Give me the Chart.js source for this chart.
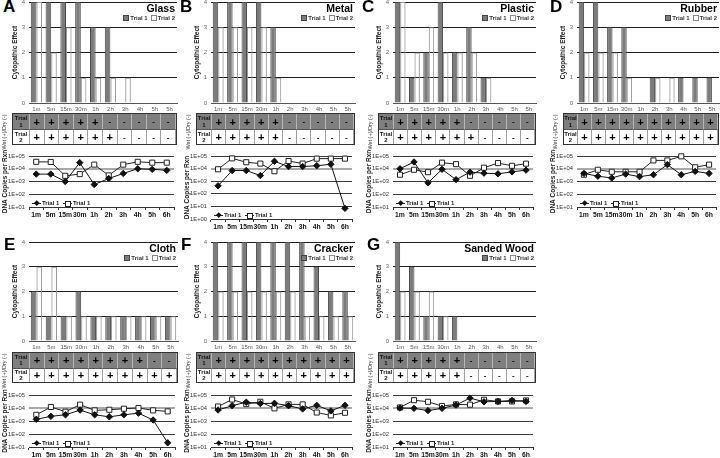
<!DOCTYPE html>
<html>
<head>
<meta charset="utf-8">
<script src="https://cdn.jsdelivr.net/npm/chart.js@4.4.1/dist/chart.umd.min.js"></script>
<style>
  body { margin: 0; width: 720px; height: 458px; position: relative; overflow: hidden; background: #fff;
         font-family: "Liberation Sans", Arial, sans-serif; }
  canvas { position: absolute; }
  .abs { position: absolute; white-space: nowrap; }
  .letter { font-weight: bold; font-size: 17px; line-height: 17px; }
  .ptitle { font-weight: bold; font-size: 10.5px; line-height: 12px; text-align: right; width: 90px; }
  .blegend { font-weight: bold; font-size: 6px; line-height: 8px; color: #333; text-align: right; width: 60px; }
  .blegend i { display: inline-block; width: 4px; height: 4px; vertical-align: -0.5px; margin: 0 1px 0 3px; }
  .llegend { font-weight: bold; font-size: 6px; line-height: 8px; color: #222; }
  .llegend .mk { display: inline-block; position: relative; width: 9px; height: 6px; vertical-align: -1px; margin: 0 1px 0 2px; }
  .llegend .mk:before { content: ""; position: absolute; left: 0; right: 0; top: 3px; border-top: 1px solid #222; }
  .llegend .dia { position: absolute; left: 2.5px; top: 1px; width: 3.5px; height: 3.5px; background: #111; transform: rotate(45deg); }
  .llegend .sq { position: absolute; left: 2px; top: 0.5px; width: 4px; height: 4px; background: #fff; border: 1px solid #222; }
  .tbl { display: grid; border: 1px solid #333; box-sizing: border-box; }
  .tbl div { display: flex; align-items: center; justify-content: center; font-weight: bold; box-sizing: border-box; }
  .tbl .g { background: #7f7f7f; border-right: 1px solid #b5b5b5; }
  .tbl .w { background: #fff; border-right: 1px solid #a0a0a0; border-top: 1px solid #555; }
  .tbl .hd { font-size: 6px; line-height: 6.5px; text-align: center; color: #111; }
  .tbl .pl { font-size: 11px; color: #000; }
  .tbl .mi { font-size: 8px; color: #000; }
  .wet { font-size: 5.5px; line-height: 8px; width: 50px; text-align: center; color: #333; transform: rotate(-90deg); }
</style>
</head>
<body>
<script>
// categories
const barLabels = ["1m", "5m", "15m", "30m", "1h", "2h", "3h", "4h", "5h", "5h"];
const timeLabels = ["1m", "5m", "15m", "30m", "1h", "2h", "3h", "4h", "5h", "6h"];
const barLegend = ["Trial 1", "Trial 2"];
const lineLegend = ["Trial 1", "Trial 1"];
const rowNames = ["Trial 1", "Trial 2"];

// cytopathic effect (0-4)
const glassCpe1 = [4, 4, 4, 4, 3, 3, 0, 0, 0, 0];
const glassCpe2 = [4, 2, 3, 1, 1, 1, 1, 0, 0, 0];
const metalCpe1 = [4, 4, 4, 4, 3, 0, 0, 0, 0, 0];
const metalCpe2 = [3, 3, 3, 3, 1, 0, 0, 0, 0, 0];
const plasticCpe1 = [4, 1, 2, 4, 2, 3, 1, 0, 0, 0];
const plasticCpe2 = [4, 2, 3, 2, 2, 2, 1, 0, 0, 0];
const rubberCpe1 = [4, 4, 3, 3, 0, 1, 0, 1, 1, 1];
const rubberCpe2 = [2, 2, 2, 1, 0, 1, 1, 0, 0, 0];
const clothCpe1 = [2, 1, 1, 2, 1, 1, 1, 1, 1, 1];
const clothCpe2 = [3, 3, 1, 1, 1, 1, 1, 1, 1, 1];
const crackerCpe1 = [4, 4, 4, 4, 4, 4, 4, 3, 2, 2];
const crackerCpe2 = [2, 2, 2, 2, 2, 2, 1, 1, 1, 1];
const woodCpe1 = [4, 3, 1, 1, 1, 0, 0, 0, 0, 0];
const woodCpe2 = [2, 2, 2, 1, 0, 0, 0, 0, 0, 0];

// wet (+) / dry (-)
const glassWet1 = ["+", "+", "+", "+", "+", "-", "-", "-", "-", "-"];
const glassWet2 = ["+", "+", "+", "+", "+", "+", "-", "-", "-", "-"];
const metalWet1 = ["+", "+", "+", "+", "+", "-", "-", "-", "-", "-"];
const metalWet2 = ["+", "+", "+", "+", "+", "-", "-", "-", "-", "-"];
const plasticWet1 = ["+", "+", "+", "+", "+", "-", "-", "-", "-", "-"];
const plasticWet2 = ["+", "+", "+", "+", "+", "+", "-", "-", "-", "-"];
const rubberWet1 = ["+", "+", "+", "+", "+", "+", "+", "+", "+", "+"];
const rubberWet2 = ["+", "+", "+", "+", "+", "+", "+", "+", "+", "+"];
const clothWet1 = ["+", "+", "+", "+", "+", "+", "+", "+", "-", "-"];
const clothWet2 = ["+", "+", "+", "+", "+", "+", "+", "+", "+", "+"];
const crackerWet1 = ["+", "+", "+", "+", "+", "+", "+", "+", "+", "+"];
const crackerWet2 = ["+", "+", "+", "+", "+", "+", "+", "+", "+", "+"];
const woodWet1 = ["+", "+", "+", "+", "+", "-", "-", "-", "-", "-"];
const woodWet2 = ["+", "+", "+", "+", "+", "-", "-", "-", "-", "-"];

// DNA copies per reaction
const glassDna1 = [3800, 3800, 1000, 30000, 580, 1700, 4300, 10000, 9000, 7500];
const glassDna2 = [35000, 34000, 2800, 3800, 21000, 3000, 21000, 35000, 30000, 30000];
const metalDna1 = [430, 7000, 7000, 2800, 38000, 14500, 14500, 17000, 22000, 7];
const metalDna2 = [8900, 65000, 32000, 25000, 6200, 40000, 25000, 62000, 62000, 62000];
const plasticDna1 = [10000, 34000, 780, 9000, 1400, 5400, 4500, 4000, 5700, 7800];
const plasticDna2 = [3400, 8300, 5400, 30000, 23000, 2800, 12000, 28000, 17000, 25000];
const rubberDna1 = [4300, 2600, 1900, 3800, 2400, 3400, 21000, 3400, 6200, 4300];
const rubberDna2 = [3400, 8300, 5800, 5800, 5800, 45000, 45000, 94000, 13000, 21000];
const clothDna1 = [1350, 2300, 3000, 6900, 3000, 2100, 3000, 4000, 1200, 21];
const clothDna2 = [3000, 12000, 5200, 18000, 6600, 7300, 8800, 10000, 6600, 5500];
const crackerDna1 = [7000, 15000, 28000, 22000, 23000, 15000, 8500, 16000, 6000, 16000];
const crackerDna2 = [13000, 45000, 20000, 30000, 9400, 19000, 19000, 4500, 2700, 4300];
const woodDna1 = [10000, 9400, 6300, 9400, 17000, 58000, 30000, 32000, 38000, 32000];
const woodDna2 = [11000, 40000, 30000, 14000, 19000, 18000, 43000, 32000, 32000, 38000];

// row geometry (page pixels)
const rows = [
  { letterTop: -2, barTop: 2, barBottom: 103, tblTop: 113, tblBottom: 145, lineTop: 156, lineBottom: 207 },
  { letterTop: 236, barTop: 242, barBottom: 341, tblTop: 352, tblBottom: 383, lineTop: 395, lineBottom: 447 }
];

const panels = [
  { letter: "A", name: "Glass", row: 0, lx: 3, x0: 12, xp: 29, xr: 177, cpe1: glassCpe1, cpe2: glassCpe2, wet1: glassWet1, wet2: glassWet2, dna1: glassDna1, dna2: glassDna2, logMin: 10 },
  { letter: "B", name: "Metal", row: 0, lx: 180, x0: 196, xp: 211, xr: 355, cpe1: metalCpe1, cpe2: metalCpe2, wet1: metalWet1, wet2: metalWet2, dna1: metalDna1, dna2: metalDna2, logMin: 1 },
  { letter: "C", name: "Plastic", row: 0, lx: 362, x0: 378, xp: 393, xr: 536, cpe1: plasticCpe1, cpe2: plasticCpe2, wet1: plasticWet1, wet2: plasticWet2, dna1: plasticDna1, dna2: plasticDna2, logMin: 10 },
  { letter: "D", name: "Rubber", row: 0, lx: 550, x0: 563, xp: 577, xr: 719, cpe1: rubberCpe1, cpe2: rubberCpe2, wet1: rubberWet1, wet2: rubberWet2, dna1: rubberDna1, dna2: rubberDna2, logMin: 10 },
  { letter: "E", name: "Cloth", row: 1, lx: 4, x0: 12, xp: 29, xr: 178, cpe1: clothCpe1, cpe2: clothCpe2, wet1: clothWet1, wet2: clothWet2, dna1: clothDna1, dna2: clothDna2, logMin: 10 },
  { letter: "F", name: "Cracker", row: 1, lx: 181, x0: 196, xp: 211, xr: 355, cpe1: crackerCpe1, cpe2: crackerCpe2, wet1: crackerWet1, wet2: crackerWet2, dna1: crackerDna1, dna2: crackerDna2, logMin: 10 },
  { letter: "G", name: "Sanded Wood", row: 1, lx: 367, x0: 378, xp: 393, xr: 536, cpe1: woodCpe1, cpe2: woodCpe2, wet1: woodWet1, wet2: woodWet2, dna1: woodDna1, dna2: woodDna2, logMin: 10 }
];

Chart.defaults.font.family = '"Liberation Sans", Arial, sans-serif';

function addDiv(cls, left, top, html) {
  const d = document.createElement("div");
  d.className = "abs " + cls;
  d.style.left = left + "px";
  d.style.top = top + "px";
  d.innerHTML = html;
  document.body.appendChild(d);
  return d;
}

function addCanvas(l, t, r, b) {
  const c = document.createElement("canvas");
  c.width = r - l;
  c.height = b - t;
  c.style.left = l + "px";
  c.style.top = t + "px";
  document.body.appendChild(c);
  return c;
}

function sci(v) {
  const e = Math.round(Math.log10(v));
  return "1E+" + String(e).padStart(2, "0");
}

panels.forEach(p => {
  const R = rows[p.row];
  const lineBottom = p.logMin === 1 ? R.lineBottom + 12 : R.lineBottom;

  addDiv("letter", p.lx, R.letterTop, p.letter);

  // bar chart: cytopathic effect
  const bl = p.xp - 20, bt = R.barTop - 8, br = p.xr + 2, bb = R.barBottom + 11;
  new Chart(addCanvas(bl, bt, br, bb), {
    type: "bar",
    data: {
      labels: barLabels,
      datasets: [
        { label: barLegend[0], data: p.cpe1, backgroundColor: "#7c7c7c", borderColor: "#4a4a4a", borderWidth: 1,
          barPercentage: 1, categoryPercentage: 0.76 },
        { label: barLegend[1], data: p.cpe2, backgroundColor: "rgba(255,255,255,0)", borderColor: "#999", borderWidth: 1,
          barPercentage: 1, categoryPercentage: 0.76 }
      ]
    },
    options: {
      responsive: false, animation: false,
      layout: { padding: { left: 0, bottom: 0, top: R.barTop - bt, right: br - p.xr } },
      plugins: { legend: { display: false }, tooltip: { enabled: false } },
      scales: {
        x: {
          grid: { display: false, drawTicks: false },
          border: { color: "#555" },
          ticks: { font: { size: 6 }, color: "#555", padding: 3, maxRotation: 0, autoSkip: false },
          afterFit: s => { s.height = bb - R.barBottom; }
        },
        y: {
          min: 0, max: 4,
          ticks: { stepSize: 1, font: { size: 6 }, color: "#666", padding: 4 },
          grid: { color: "#1e1e1e", drawTicks: false },
          border: { display: false },
          title: { display: true, text: "Cytopathic Effect", font: { size: 6.5, weight: "bold" }, color: "#222", padding: { top: 2, bottom: 0 } },
          afterFit: s => { s.width = p.xp - bl; }
        }
      }
    }
  });

  addDiv("ptitle", p.xr - 92, R.barTop, p.name);
  addDiv("blegend", p.xr - 62, R.barTop + 12,
    '<i style="background:#7c7c7c;border:1px solid #444"></i>' + barLegend[0] +
    '<i style="background:#fff;border:1px solid #888"></i>' + barLegend[1]);

  // wet / dry table
  const tbl = document.createElement("div");
  tbl.className = "abs tbl";
  tbl.style.left = p.x0 + "px";
  tbl.style.top = R.tblTop + "px";
  tbl.style.width = (p.xr - p.x0) + "px";
  tbl.style.height = (R.tblBottom - R.tblTop) + "px";
  tbl.style.gridTemplateColumns = (p.xp - p.x0) + "px repeat(" + timeLabels.length + ", 1fr)";
  tbl.style.gridTemplateRows = "1fr 1fr";
  let html = "";
  [p.wet1, p.wet2].forEach((vals, ri) => {
    const cls = ri === 0 ? "g" : "w";
    const parts = rowNames[ri].split(" ");
    html += '<div class="' + cls + ' hd">' + parts[0] + "<br>" + parts[1] + "</div>";
    vals.forEach(v => {
      html += '<div class="' + cls + " " + (v === "+" ? "pl" : "mi") + '">' + v + "</div>";
    });
  });
  tbl.innerHTML = html;
  document.body.appendChild(tbl);

  const wy = (R.tblTop + R.tblBottom) / 2 + 3;
  addDiv("wet", p.x0 - 8 - 25, wy - 4, "Wet (+)/Dry (-)");

  // line chart: DNA copies
  const ll = p.xp - 28, lt = R.lineTop - 8, lr = p.xr + 2, lb = lineBottom + 12;
  const logTicks = [];
  for (let v = p.logMin; v <= 1e5; v *= 10) logTicks.push(v);
  new Chart(addCanvas(ll, lt, lr, lb), {
    type: "line",
    data: {
      labels: timeLabels,
      datasets: [
        { label: lineLegend[0], data: p.dna1, borderColor: "#111", borderWidth: 1, pointStyle: "rectRot", pointRadius: 3.2,
          pointBackgroundColor: "#111", pointBorderColor: "#111", clip: false },
        { label: lineLegend[1], data: p.dna2, borderColor: "#222", borderWidth: 1, pointStyle: "rect", pointRadius: 3.6,
          pointBackgroundColor: "#fff", pointBorderColor: "#222", pointBorderWidth: 1, clip: false }
      ]
    },
    options: {
      responsive: false, animation: false,
      layout: { padding: { left: 0, bottom: 0, top: R.lineTop - lt, right: lr - p.xr } },
      plugins: { legend: { display: false }, tooltip: { enabled: false } },
      scales: {
        x: {
          offset: true,
          grid: { display: true, drawOnChartArea: false, tickLength: 3, color: "#333", offset: true },
          border: { color: "#333" },
          ticks: { font: { size: 6.8, weight: "bold" }, color: "#111", padding: 1, maxRotation: 0, autoSkip: false },
          afterFit: s => { s.height = lb - lineBottom; }
        },
        y: {
          type: "logarithmic", min: p.logMin, max: 1e5,
          afterBuildTicks: s => { s.ticks = logTicks.map(v => ({ value: v })); },
          ticks: { callback: v => sci(v), font: { size: 5.8 }, color: "#333", padding: 4 },
          grid: {
            color: c => (c.tick && c.tick.value === 1e4 ? "#a8a8a8" : "#3a3a3a"),
            lineWidth: c => (c.tick && c.tick.value === 1e4 ? 2 : 1),
            drawTicks: false
          },
          border: { display: false },
          title: { display: true, text: "DNA Copies per Rxn", font: { size: 6.5, weight: "bold" }, color: "#222", padding: { top: 0, bottom: 0 } },
          afterFit: s => { s.width = p.xp - ll; }
        }
      }
    }
  });

  addDiv("llegend", p.xp + 1, lineBottom - 8,
    '<span class="mk"><span class="dia"></span></span>' + lineLegend[0] +
    ' <span class="mk"><span class="sq"></span></span>' + lineLegend[1]);
});
</script>
</body>
</html>
